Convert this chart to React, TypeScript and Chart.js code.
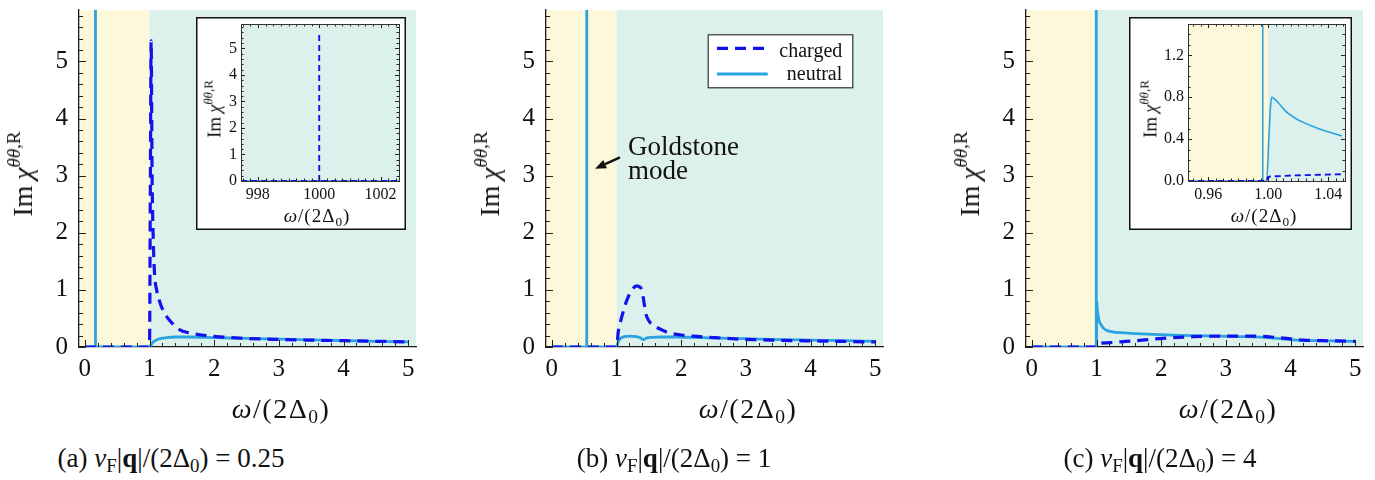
import React, { useEffect, useRef } from 'react';
import { Chart, registerables } from 'chart.js';

Chart.register(...registerables);

const FONT = '"Liberation Serif", "DejaVu Serif", serif';
const NEUTRAL_COLOR = '#2ba3e0';
const CHARGED_COLOR = '#1212ee';
const GAP_COLOR = '#fdf8da';
const CONTINUUM_COLOR = '#dcf0ec';
const AXIS_COLOR = '#1a1a1a';

// ---------------- data ----------------
const xTicksMain = [0, 1, 2, 3, 4, 5];
const xLabelsMain = ['0', '1', '2', '3', '4', '5'];
const yTicksMain = [0, 1, 2, 3, 4, 5];
const yLabelsMain = ['0', '1', '2', '3', '4', '5'];
const xRangeMain: [number, number] = [-0.09, 5.12];
const yRangeMain: [number, number] = [0, 5.9];
const gapEdge = 1.0; // omega = 2 Delta_0

// (a) vF|q|/(2Δ0) = 0.25
const aChargedX = [0, 1.0, 1.012, 1.025, 1.04, 1.06, 1.08, 1.11, 1.15, 1.21, 1.3, 1.47, 1.6, 1.8, 2.0, 2.5, 3.0, 3.5, 4.0, 4.5, 5.0];
const aChargedY = [0, 0, 2.6, 5.36, 3.0, 1.8, 1.25, 1.0, 0.82, 0.64, 0.48, 0.3, 0.25, 0.21, 0.185, 0.15, 0.132, 0.12, 0.11, 0.1, 0.09];
const aNeutralX = [0, 1.0, 1.03, 1.06, 1.1, 1.18, 1.26, 1.4, 1.6, 2.0, 2.5, 3.0, 3.5, 4.0, 4.5, 5.0];
const aNeutralY = [0, 0, 0.05, 0.09, 0.12, 0.15, 0.165, 0.175, 0.175, 0.165, 0.15, 0.137, 0.125, 0.113, 0.1, 0.09];
const aGoldstoneX = [0.165, 0.165];
const aGoldstoneY = [0, 7];

// (b) vF|q|/(2Δ0) = 1
const bChargedX = [0, 1.0, 1.03, 1.07, 1.11, 1.16, 1.24, 1.31, 1.36, 1.39, 1.42, 1.45, 1.5, 1.57, 1.68, 1.78, 2.0, 2.19, 2.5, 2.96, 3.5, 4.0, 4.5, 5.0];
const bChargedY = [0, 0, 0.29, 0.48, 0.64, 0.82, 1.0, 1.07, 1.05, 1.0, 0.82, 0.6, 0.46, 0.38, 0.31, 0.26, 0.21, 0.19, 0.165, 0.135, 0.118, 0.107, 0.097, 0.088];
const bNeutralX = [0, 1.0, 1.03, 1.06, 1.12, 1.21, 1.3, 1.37, 1.42, 1.47, 1.55, 1.7, 1.93, 2.5, 2.96, 3.5, 4.0, 4.5, 5.0];
const bNeutralY = [0, 0, 0.1, 0.15, 0.18, 0.19, 0.18, 0.16, 0.13, 0.16, 0.17, 0.175, 0.175, 0.16, 0.145, 0.13, 0.12, 0.11, 0.1];
const bGoldstoneX = [0.54, 0.54];
const bGoldstoneY = [0, 7];

// (c) vF|q|/(2Δ0) = 4
const cChargedX = [0, 0.9995, 1.0, 1.01, 1.03, 1.05, 1.2, 1.37, 1.6, 1.9, 2.14, 2.5, 2.91, 3.2, 3.43, 3.7, 3.94, 4.2, 4.5, 5.0];
const cChargedY = [0, 0, 0.035, 0.045, 0.057, 0.065, 0.075, 0.09, 0.11, 0.14, 0.16, 0.18, 0.19, 0.19, 0.19, 0.175, 0.15, 0.12, 0.11, 0.1];
const cNeutralX = [0, 0.9989, 1.0023, 1.0065, 1.012, 1.023, 1.0345, 1.049, 1.07, 1.1, 1.16, 1.25, 1.37, 1.6, 1.88, 2.3, 2.91, 3.3, 3.69, 3.9, 4.1, 4.4, 5.0];
const cNeutralY = [0, 0, 0.8, 0.75, 0.66, 0.56, 0.495, 0.43, 0.39, 0.34, 0.29, 0.265, 0.25, 0.235, 0.22, 0.205, 0.19, 0.18, 0.16, 0.14, 0.12, 0.11, 0.1];
const cSpikeX = [0.9963, 0.9963];
const cSpikeY = [0, 7];

// inset of (a): around ω/(2Δ0) = 1000
const insetAXRange: [number, number] = [997.45, 1002.6];
const insetAYRange: [number, number] = [0, 5.92];
const insetAXTicks = [998, 1000, 1002];
const insetAXLabels = ['998', '1000', '1002'];
const insetAYTicks = [0, 1, 2, 3, 4, 5];
const insetAYLabels = ['0', '1', '2', '3', '4', '5'];
const insetAChargedX = [997.45, 1000, 1002.6];
const insetAChargedY = [0, 0, 0];
const insetAPlasmaX = [1000, 1000];
const insetAPlasmaY = [0, 5.63];
const insetANeutralX = [997.45, 1002.6];
const insetANeutralY = [0, 0];

// inset of (c): around ω/(2Δ0) = 1
const insetCXRange: [number, number] = [0.9465, 1.0511];
const insetCYRange: [number, number] = [0, 1.5];
const insetCXTicks = [0.96, 1.0, 1.04];
const insetCXLabels = ['0.96', '1.00', '1.04'];
const insetCYTicks = [0, 0.4, 0.8, 1.2];
const insetCYLabels = ['0.0', '0.4', '0.8', '1.2'];
const insetCNeutralX = [0.9465, 0.9989, 1.0005, 1.0015, 1.0023, 1.004, 1.0065, 1.012, 1.018, 1.0233, 1.029, 1.0345, 1.041, 1.049];
const insetCNeutralY = [0, 0, 0.45, 0.72, 0.8, 0.785, 0.75, 0.66, 0.6, 0.56, 0.525, 0.495, 0.465, 0.43];
const insetCChargedX = [0.9465, 0.9991, 0.9995, 1.005, 1.015, 1.03, 1.049];
const insetCChargedY = [0, 0, 0.035, 0.045, 0.052, 0.058, 0.065];
const insetCSpikeX = [0.9963, 0.9963];
const insetCSpikeY = [0, 2];

// ---------------- plugins ----------------
const bandsPlugin = {
  id: 'bands',
  beforeDraw(chart: any, _a: any, opts: any) {
    if (!opts || !opts.bands) return;
    const { ctx, chartArea: ca, scales } = chart;
    const xs = scales.x;
    ctx.save();
    for (const b of opts.bands) {
      const from = Math.max(b.from, xs.min);
      const to = Math.min(b.to, xs.max);
      if (to <= from) continue;
      const p1 = xs.getPixelForValue(from);
      const p2 = xs.getPixelForValue(to);
      ctx.fillStyle = b.color;
      ctx.fillRect(p1, ca.top, p2 - p1, ca.bottom - ca.top);
    }
    ctx.restore();
  },
};

const innerTicksPlugin = {
  id: 'innerTicks',
  afterDatasetsDraw(chart: any, _a: any, opts: any) {
    if (!opts || !opts.x) return;
    const { ctx, chartArea: ca, scales } = chart;
    ctx.save();
    ctx.strokeStyle = opts.color;
    ctx.lineWidth = opts.width;
    const drawAxis = (scale: any, cfg: any, horizontal: boolean) => {
      const step = cfg.minor;
      const k0 = Math.ceil((scale.min - 1e-9) / step);
      const k1 = Math.floor((scale.max + 1e-9) / step);
      ctx.beginPath();
      for (let k = k0; k <= k1; k++) {
        const v = k * step;
        const major = cfg.major.some((m: number) => Math.abs(m - v) < step * 1e-3);
        const len = major ? opts.majorLen : opts.minorLen;
        const p = Math.round(scale.getPixelForValue(v)) + 0.5;
        if (horizontal) {
          ctx.moveTo(p, ca.bottom);
          ctx.lineTo(p, ca.bottom - len);
          if (opts.mirror) {
            ctx.moveTo(p, ca.top);
            ctx.lineTo(p, ca.top + len);
          }
        } else {
          ctx.moveTo(ca.left, p);
          ctx.lineTo(ca.left + len, p);
          if (opts.mirror) {
            ctx.moveTo(ca.right, p);
            ctx.lineTo(ca.right - len, p);
          }
        }
      }
      ctx.stroke();
    };
    drawAxis(scales.x, opts.x, true);
    drawAxis(scales.y, opts.y, false);
    ctx.restore();
  },
};

const framePlugin = {
  id: 'frame',
  afterDatasetsDraw(chart: any, _a: any, opts: any) {
    if (!opts || !opts.on) return;
    const { ctx, chartArea: ca, width, height } = chart;
    ctx.save();
    ctx.strokeStyle = '#333';
    ctx.lineWidth = 1;
    ctx.strokeRect(Math.round(ca.left) + 0.5, Math.round(ca.top) + 0.5, Math.round(ca.right - ca.left), Math.round(ca.bottom - ca.top));
    ctx.strokeStyle = '#111';
    ctx.lineWidth = 1.5;
    ctx.strokeRect(0.75, 0.75, width - 1.5, height - 1.5);
    ctx.restore();
  },
};

const boxLegendPlugin = {
  id: 'boxLegend',
  afterDatasetsDraw(chart: any, _a: any, opts: any) {
    if (!opts || !opts.items) return;
    const { ctx, chartArea: ca } = chart;
    const L = ca.right - opts.right - opts.w;
    const T = ca.top + opts.top;
    ctx.save();
    ctx.fillStyle = '#ffffff';
    ctx.fillRect(L, T, opts.w, opts.h);
    ctx.strokeStyle = '#333';
    ctx.lineWidth = 1.2;
    ctx.strokeRect(L + 0.5, T + 0.5, opts.w, opts.h);
    opts.items.forEach((idx: number, k: number) => {
      const ds = chart.data.datasets[idx];
      const yy = T + opts.rowY[k];
      ctx.strokeStyle = ds.borderColor;
      ctx.lineWidth = ds.borderWidth;
      ctx.setLineDash(ds.borderDash || []);
      ctx.beginPath();
      ctx.moveTo(L + opts.lineX0, yy);
      ctx.lineTo(L + opts.lineX1, yy);
      ctx.stroke();
      ctx.setLineDash([]);
      ctx.fillStyle = '#111';
      ctx.font = `${opts.size}px ${FONT}`;
      ctx.textAlign = 'right';
      ctx.textBaseline = 'alphabetic';
      ctx.fillText(ds.label, L + opts.textRight, T + opts.baseY[k]);
    });
    ctx.restore();
  },
};

const notePlugin = {
  id: 'note',
  afterDatasetsDraw(chart: any, _a: any, opts: any) {
    if (!opts || !opts.lines) return;
    const { ctx, scales } = chart;
    const xs = scales.x;
    const ys = scales.y;
    ctx.save();
    ctx.fillStyle = '#111';
    ctx.font = `${opts.size}px ${FONT}`;
    ctx.textAlign = 'left';
    ctx.textBaseline = 'alphabetic';
    opts.lines.forEach((l: any) => ctx.fillText(l.text, xs.getPixelForValue(l.x), ys.getPixelForValue(l.y)));
    const x1 = xs.getPixelForValue(opts.arrowFrom[0]);
    const y1 = ys.getPixelForValue(opts.arrowFrom[1]);
    const x2 = xs.getPixelForValue(opts.arrowTo[0]);
    const y2 = ys.getPixelForValue(opts.arrowTo[1]);
    const ang = Math.atan2(y2 - y1, x2 - x1);
    const headLen = 11;
    const headW = 4.5;
    const bx = x2 - headLen * Math.cos(ang);
    const by = y2 - headLen * Math.sin(ang);
    ctx.strokeStyle = '#111';
    ctx.lineWidth = 2.4;
    ctx.beginPath();
    ctx.moveTo(x1, y1);
    ctx.lineTo(bx, by);
    ctx.stroke();
    ctx.beginPath();
    ctx.moveTo(x2, y2);
    ctx.lineTo(bx + headW * Math.sin(ang), by - headW * Math.cos(ang));
    ctx.lineTo(bx - headW * Math.sin(ang), by + headW * Math.cos(ang));
    ctx.closePath();
    ctx.fill();
    ctx.restore();
  },
};

// ---------------- chart building ----------------
const zip = (xs: number[], ys: number[]) => xs.map((x, i) => ({ x, y: ys[i] }));

function series(label: string, xs: number[], ys: number[], kind: 'charged' | 'neutral', inset: boolean, smooth = true) {
  const charged = kind === 'charged';
  return {
    label,
    data: zip(xs, ys),
    borderColor: charged ? CHARGED_COLOR : NEUTRAL_COLOR,
    backgroundColor: 'transparent',
    borderWidth: charged ? (inset ? 1.9 : 3.2) : inset ? 1.6 : 2.8,
    borderDash: charged ? (inset ? [6, 4] : [11, 7]) : [],
    borderCapStyle: 'butt',
    borderJoinStyle: 'round',
    pointRadius: 0,
    pointHoverRadius: 0,
    fill: false,
    tension: 0,
    cubicInterpolationMode: smooth ? 'monotone' : 'default',
    order: charged ? 0 : 1,
  };
}

const mainBands = [
  { from: -Infinity, to: gapEdge, color: GAP_COLOR },
  { from: gapEdge, to: Infinity, color: CONTINUUM_COLOR },
];

type Spec = {
  datasets: any[];
  xRange: [number, number];
  yRange: [number, number];
  xTicks: number[];
  xLabels: string[];
  yTicks: number[];
  yLabels: string[];
  xMinor: number;
  yMinor: number;
  inset: boolean;
  yAxisWidth: number;
  xAxisHeight: number;
  padTop: number;
  padRight: number;
  legend?: any;
  note?: any;
};

function buildConfig(p: Spec): any {
  const tickFont = { family: FONT, size: p.inset ? 16 : 25 };
  return {
    type: 'line',
    data: { datasets: p.datasets },
    options: {
      responsive: false,
      animation: false,
      events: [],
      layout: { padding: { top: p.padTop, right: p.padRight, left: 0, bottom: 0 } },
      scales: {
        x: {
          type: 'linear',
          min: p.xRange[0],
          max: p.xRange[1],
          afterBuildTicks: (s: any) => {
            s.ticks = p.xTicks.map((v) => ({ value: v }));
          },
          afterFit: (s: any) => {
            s.height = p.xAxisHeight;
            s.paddingLeft = 0;
            s.paddingRight = 0;
          },
          ticks: {
            font: tickFont,
            color: '#111',
            padding: p.inset ? 4 : 7,
            maxRotation: 0,
            minRotation: 0,
            autoSkip: false,
            callback: (_v: any, i: number) => p.xLabels[i],
          },
          grid: { display: true, drawOnChartArea: false, drawTicks: false },
          border: { display: !p.inset, color: AXIS_COLOR, width: 1.3 },
        },
        y: {
          type: 'linear',
          position: 'left',
          min: p.yRange[0],
          max: p.yRange[1],
          afterBuildTicks: (s: any) => {
            s.ticks = p.yTicks.map((v) => ({ value: v }));
          },
          afterFit: (s: any) => {
            s.width = p.yAxisWidth;
            s.paddingTop = 0;
            s.paddingBottom = 0;
          },
          ticks: {
            font: tickFont,
            color: '#111',
            padding: p.inset ? 4 : 11,
            autoSkip: false,
            callback: (_v: any, i: number) => p.yLabels[i],
          },
          grid: { display: true, drawOnChartArea: false, drawTicks: false },
          border: { display: !p.inset, color: AXIS_COLOR, width: 1.3 },
        },
      },
      plugins: {
        legend: { display: false },
        tooltip: { enabled: false },
        bands: { bands: mainBands },
        innerTicks: {
          x: { major: p.xTicks, minor: p.xMinor },
          y: { major: p.yTicks, minor: p.yMinor },
          mirror: p.inset,
          majorLen: p.inset ? 4 : 7,
          minorLen: p.inset ? 2.5 : 4,
          color: '#222',
          width: 1,
        },
        frame: { on: p.inset },
        boxLegend: p.legend || {},
        note: p.note || {},
      },
    },
    plugins: [bandsPlugin, innerTicksPlugin, framePlugin, boxLegendPlugin, notePlugin],
  };
}

const mainBase = {
  xRange: xRangeMain,
  yRange: yRangeMain,
  xTicks: xTicksMain,
  xLabels: xLabelsMain,
  yTicks: yTicksMain,
  yLabels: yLabelsMain,
  xMinor: 0.2,
  yMinor: 0.2,
  inset: false,
  yAxisWidth: 79,
  xAxisHeight: 53,
  padTop: 10,
  padRight: 10,
};

const panelA: Spec = {
  ...mainBase,
  datasets: [
    series('charged', aChargedX, aChargedY, 'charged', false),
    series('neutral', aNeutralX, aNeutralY, 'neutral', false),
    series('neutral', aGoldstoneX, aGoldstoneY, 'neutral', false, false),
  ],
};

const panelB: Spec = {
  ...mainBase,
  datasets: [
    series('charged', bChargedX, bChargedY, 'charged', false),
    series('neutral', bNeutralX, bNeutralY, 'neutral', false),
    series('neutral', bGoldstoneX, bGoldstoneY, 'neutral', false, false),
  ],
  legend: {
    items: [0, 1],
    right: 30.7,
    top: 24.3,
    w: 144.6,
    h: 53,
    lineX0: 9.3,
    lineX1: 60,
    rowY: [14, 39.7],
    baseY: [22.4, 45.7],
    textRight: 134.6,
    size: 20,
  },
  note: {
    lines: [
      { text: 'Goldstone', x: 1.178, y: 3.37 },
      { text: 'mode', x: 1.178, y: 2.95 },
    ],
    arrowFrom: [1.054, 3.32],
    arrowTo: [0.669, 3.12],
    size: 27,
  },
};

const panelC: Spec = {
  ...mainBase,
  datasets: [
    series('charged', cChargedX, cChargedY, 'charged', false),
    series('neutral', cNeutralX, cNeutralY, 'neutral', false),
    series('neutral', cSpikeX, cSpikeY, 'neutral', false, false),
  ],
};

const insetA: Spec = {
  datasets: [
    series('charged', insetAChargedX, insetAChargedY, 'charged', true, false),
    series('charged', insetAPlasmaX, insetAPlasmaY, 'charged', true, false),
    series('neutral', insetANeutralX, insetANeutralY, 'neutral', true, false),
  ],
  xRange: insetAXRange,
  yRange: insetAYRange,
  xTicks: insetAXTicks,
  xLabels: insetAXLabels,
  yTicks: insetAYTicks,
  yLabels: insetAYLabels,
  xMinor: 0.25,
  yMinor: 0.2,
  inset: true,
  yAxisWidth: 45,
  xAxisHeight: 49,
  padTop: 7,
  padRight: 7,
};

const insetC: Spec = {
  datasets: [
    series('charged', insetCChargedX, insetCChargedY, 'charged', true),
    series('neutral', insetCNeutralX, insetCNeutralY, 'neutral', true),
    series('neutral', insetCSpikeX, insetCSpikeY, 'neutral', true, false),
  ],
  xRange: insetCXRange,
  yRange: insetCYRange,
  xTicks: insetCXTicks,
  xLabels: insetCXLabels,
  yTicks: insetCYTicks,
  yLabels: insetCYLabels,
  xMinor: 0.005,
  yMinor: 0.1,
  inset: true,
  yAxisWidth: 59,
  xAxisHeight: 49,
  padTop: 7,
  padRight: 7,
};

// ---------------- components ----------------
function ChartBox({ spec, left, top, width, height, bg }: { spec: Spec; left: number; top: number; width: number; height: number; bg?: string }) {
  const ref = useRef<HTMLCanvasElement>(null);
  useEffect(() => {
    const chart = new Chart(ref.current as HTMLCanvasElement, buildConfig(spec));
    return () => chart.destroy();
  }, []);
  return (
    <canvas
      ref={ref}
      width={width}
      height={height}
      style={{ position: 'absolute', left, top, width, height, background: bg || 'transparent' }}
    />
  );
}

const Sub = ({ children }: { children: React.ReactNode }) => (
  <span style={{ fontSize: '0.7em', position: 'relative', top: '0.28em' }}>{children}</span>
);
const Sup = ({ children }: { children: React.ReactNode }) => (
  <span style={{ fontSize: '0.68em', position: 'relative', top: '-0.62em' }}>{children}</span>
);

const textBase: React.CSSProperties = {
  position: 'absolute',
  fontFamily: FONT,
  color: '#111',
  whiteSpace: 'nowrap',
  lineHeight: 1,
};

function YTitle({ cx, cy, size }: { cx: number; cy: number; size: number }) {
  return (
    <div style={{ ...textBase, left: cx, top: cy, fontSize: size, transform: 'translate(-50%,-50%) rotate(-90deg)' }}>
      Im&#8201;<i>χ</i>
      <Sup>
        <i>θθ</i>,R
      </Sup>
    </div>
  );
}

function XTitle({ cx, cy, size, spacing }: { cx: number; cy: number; size: number; spacing: number }) {
  return (
    <div style={{ ...textBase, left: cx, top: cy, fontSize: size, letterSpacing: spacing, transform: 'translate(-50%,-50%)' }}>
      <i>ω</i>/(2Δ<Sub>0</Sub>)
    </div>
  );
}

function Caption({ cx, cy, tag, value }: { cx: number; cy: number; tag: string; value: string }) {
  return (
    <div style={{ ...textBase, left: cx, top: cy, fontSize: 27, transform: 'translate(-50%,-50%)' }}>
      ({tag}) <i>v</i>
      <Sub>F</Sub>|<b>q</b>|/(2Δ<Sub>0</Sub>) = {value}
    </div>
  );
}

export default function App() {
  return (
    <div style={{ position: 'absolute', left: 0, top: 0, width: 1375, height: 480, background: '#ffffff', overflow: 'hidden' }}>
      <ChartBox spec={panelA} left={0} top={0} width={426} height={400} />
      <ChartBox spec={panelB} left={467} top={0} width={426} height={400} />
      <ChartBox spec={panelC} left={947} top={0} width={426} height={400} />
      <ChartBox spec={insetA} left={196} top={17} width={210} height={213} bg="#ffffff" />
      <ChartBox spec={insetC} left={1129} top={17} width={223} height={213} bg="#ffffff" />

      <YTitle cx={23} cy={174} size={28} />
      <YTitle cx={490} cy={174} size={28} />
      <YTitle cx={970} cy={174} size={28} />
      <XTitle cx={281} cy={409} size={28} spacing={1.5} />
      <XTitle cx={748} cy={409} size={28} spacing={1.5} />
      <XTitle cx={1228} cy={409} size={28} spacing={1.5} />

      <YTitle cx={214} cy={109} size={19} />
      <YTitle cx={1150} cy={109} size={19} />
      <XTitle cx={317} cy={215} size={19} spacing={1} />
      <XTitle cx={1264} cy={215} size={19} spacing={1} />

      <Caption cx={171} cy={458} tag="a" value="0.25" />
      <Caption cx={674} cy={458} tag="b" value="1" />
      <Caption cx={1160} cy={458} tag="c" value="4" />
    </div>
  );
}
